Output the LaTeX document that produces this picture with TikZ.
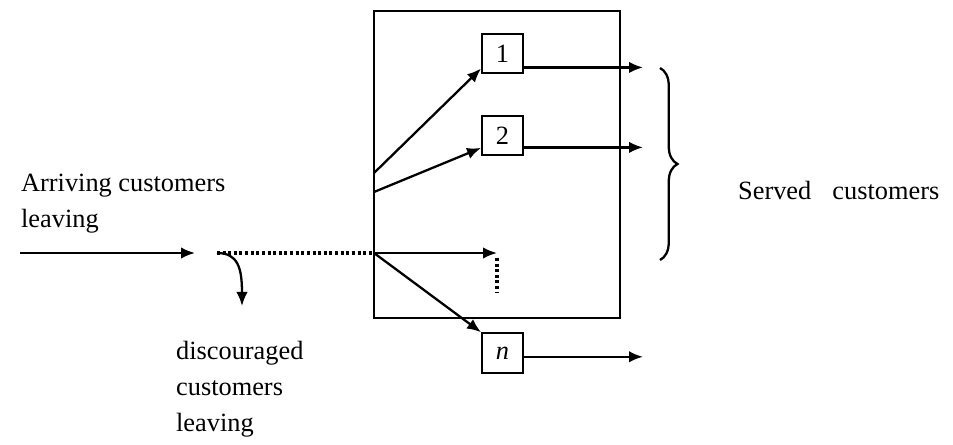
\documentclass[tikz,border=0pt]{standalone}
\usepackage{fontspec}
\setmainfont{Liberation Serif}
\usetikzlibrary{arrows.meta, decorations.pathreplacing}

\begin{document}
\begin{tikzpicture}[x=0.02cm, y=-0.02cm, font=\fontsize{15}{20.5}\selectfont, line width=1.3pt]
  \tikzset{
    server/.style={draw, line width=1.1pt, minimum width=0.82cm, minimum height=0.79cm, inner sep=0pt},
    flow/.style={-{Latex[length=2.8mm, width=2.3mm]}},
    balk/.style={dash pattern=on 1.7pt off 1.5pt, line width=1.9pt}
  }
  \useasboundingbox (0,0) rectangle (953,445);
  % service facility
  \draw[line width=1.1pt] (374,11) rectangle (620,318);
  \node[server] (s1) at (502.5,53.5) {1};
  \node[server] (s2) at (502.5,135.5) {2};
  \node[server] (sn) at (502.5,353) {\textit{n}};
  % points on the flow line
  \coordinate (arr) at (20,253);
  \coordinate (gap) at (195,253);
  \coordinate (gate) at (217,253);
  \coordinate (drop) at (242,306);
  \coordinate (split) at (374,253);
  \coordinate (fan1) at (374,173);
  \coordinate (fan2) at (374,192);
  \coordinate (qend) at (497,253);
  \coordinate (qdots) at (497,293);
  \coordinate (out) at (643,0);
  % arrivals and balking
  \draw[flow] (arr) -- (gap);
  \draw[balk] (gate) -- (split);
  \draw[flow] (gate) .. controls (238,253) and (242,268) .. (drop);
  % to the servers
  \draw[flow] (fan1) -- (s1.215);
  \draw[flow] (fan2) -- (s2.210);
  \draw[flow] (split) -- (qend);
  \draw[balk] ([yshift=-1mm]qend) -- (qdots);
  \draw[flow] (split) -- (sn.north west);
  % departures
  \draw[flow] (s1.-33) -- (s1.-33 -| out);
  \draw[flow] (s2.-29) -- (s2.-29 -| out);
  \draw[flow] (sn.-10) -- (sn.-10 -| out);
  \coordinate (btop) at (660,68);
  \coordinate (bbot) at (660,260);
  \draw[decorate, decoration={brace, amplitude=0.35cm}] (btop) -- (bbot);
  % labels
  \node[anchor=west, align=left, inner sep=0pt] (arrlabel) at (20,204) {Arriving customers\\leaving};
  \node[anchor=west, align=left, inner sep=0pt] (balklabel) at (175,389) {discouraged\\customers\\leaving};
  \node[anchor=west, inner sep=0pt] (servlabel) at (737,190) {Served\hspace{0.8em}customers};
\end{tikzpicture}
\end{document}
